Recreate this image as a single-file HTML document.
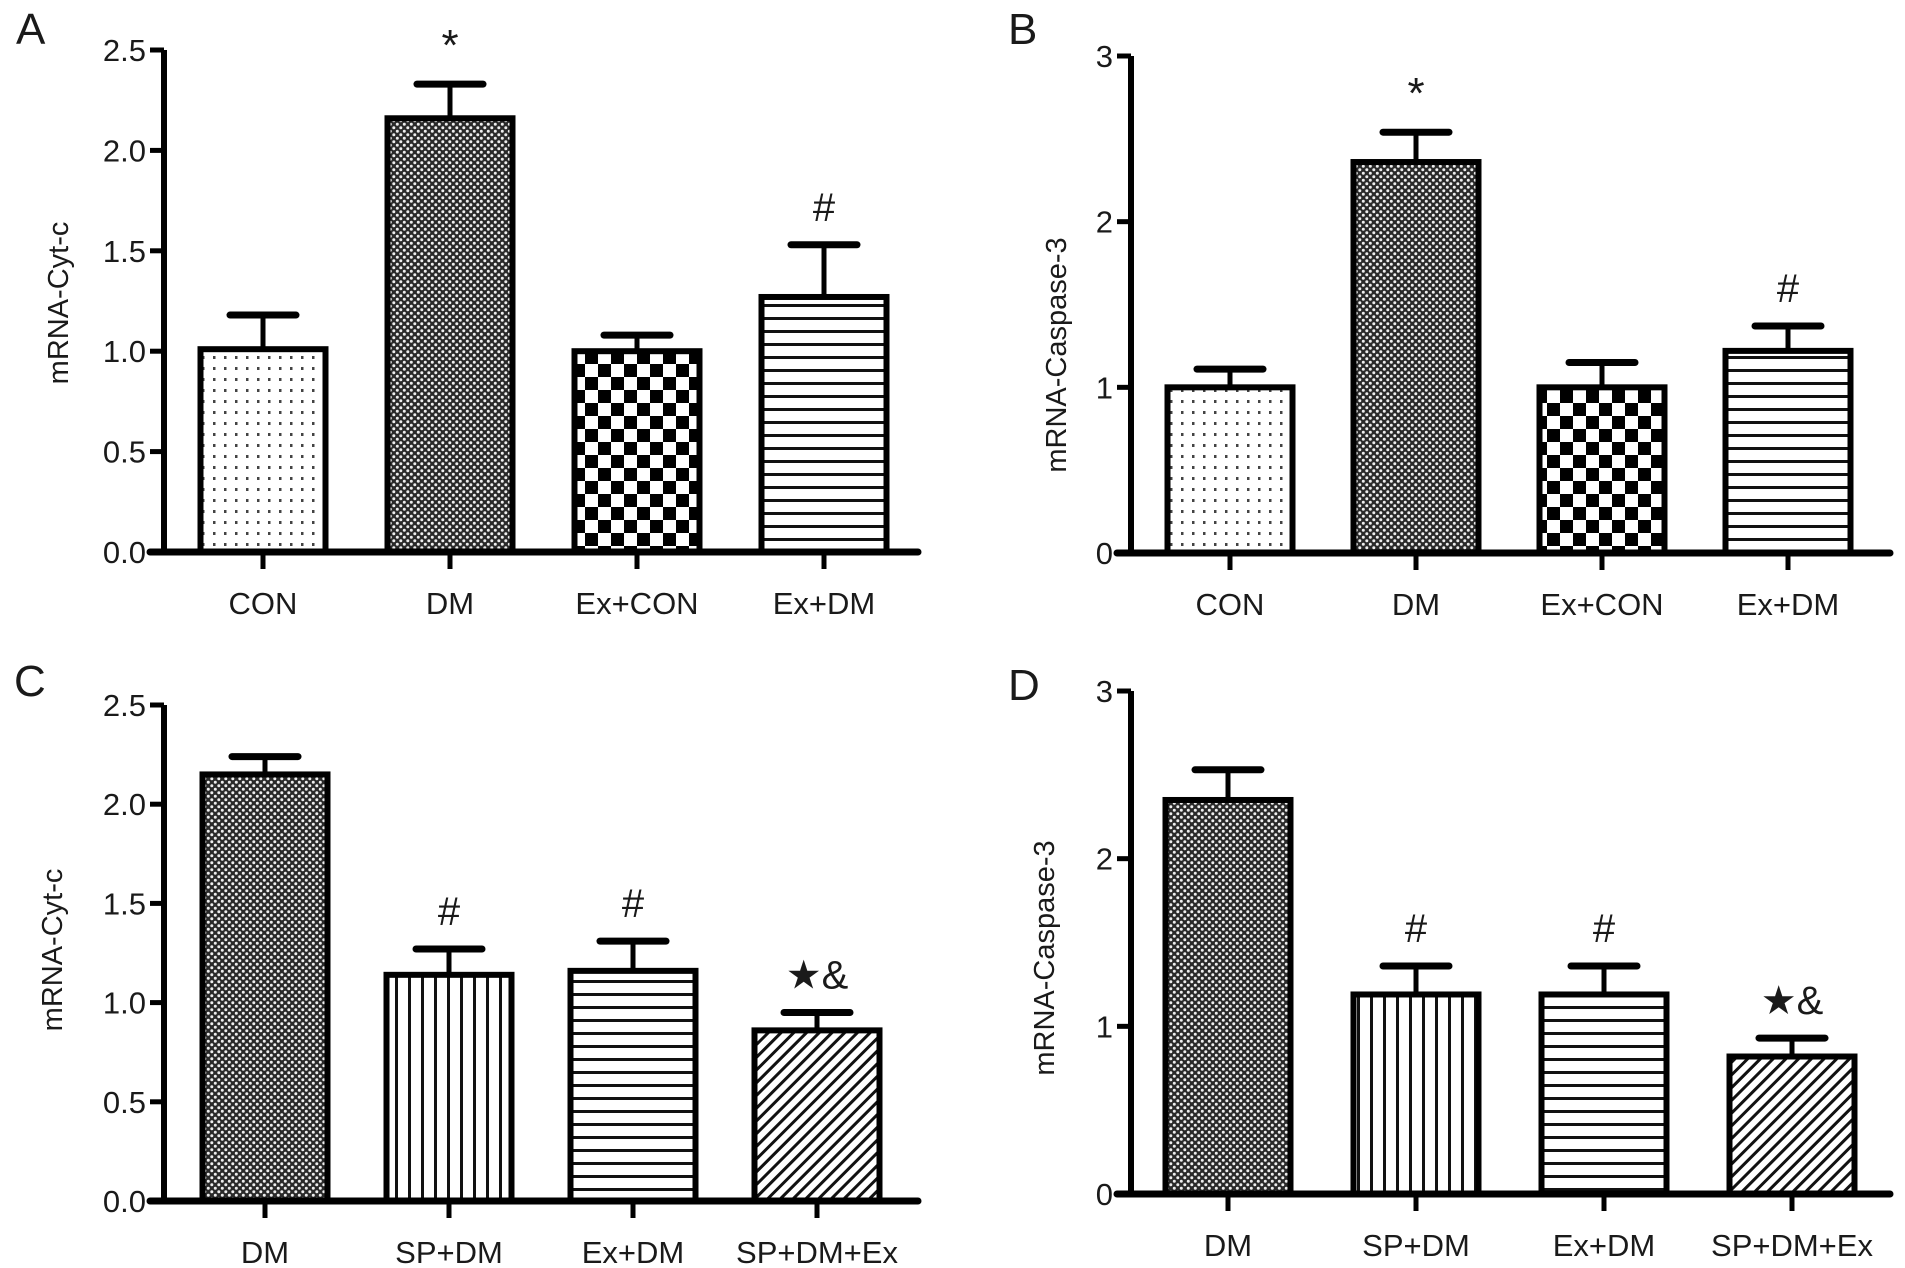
<!DOCTYPE html>
<html><head><meta charset="utf-8">
<style>
html,body{margin:0;padding:0;background:#fff;}
svg{display:block;}
text{font-family:"Liberation Sans",Arial,sans-serif;fill:#1a1a1a;}
</style></head>
<body>
<svg id="fig" width="1905" height="1268" viewBox="0 0 1905 1268" xmlns="http://www.w3.org/2000/svg">
<defs>
<pattern id="p-dots" width="11" height="11" patternUnits="userSpaceOnUse"><rect width="11" height="11" fill="#fff"/><rect x="4" y="4" width="2.5" height="3" fill="#444"/></pattern>
<pattern id="p-fine" width="7" height="7" patternUnits="userSpaceOnUse"><rect width="7" height="7" fill="#2a2a2a"/><circle cx="1.8" cy="1.8" r="1.5" fill="#eee"/><circle cx="5.3" cy="5.3" r="1.5" fill="#eee"/></pattern>
<pattern id="p-check" width="26" height="26" patternUnits="userSpaceOnUse"><rect width="26" height="26" fill="#fff"/><rect width="13" height="13" fill="#000"/><rect x="13" y="13" width="13" height="13" fill="#000"/></pattern>
<pattern id="p-hline" width="13" height="13" patternUnits="userSpaceOnUse"><rect width="13" height="13" fill="#fff"/><rect y="5" width="13" height="3" fill="#111"/></pattern>
<pattern id="p-vline" width="13" height="13" patternUnits="userSpaceOnUse"><rect width="13" height="13" fill="#fff"/><rect x="5" width="3" height="13" fill="#111"/></pattern>
<pattern id="p-diag" width="9" height="9" patternUnits="userSpaceOnUse" patternTransform="rotate(45)"><rect width="9" height="9" fill="#fff"/><rect x="3" width="3" height="9" fill="#111"/></pattern>
</defs>
<text x="16" y="44" font-size="44">A</text>
<text x="1008" y="44" font-size="44">B</text>
<text x="14" y="696" font-size="44">C</text>
<text x="1008" y="700" font-size="44">D</text>
</svg>
<script>
// Panel A
const catsA = ["CON","DM","Ex+CON","Ex+DM"];
const valsA = [1.01, 2.16, 1.0, 1.27];
const errsA = [0.17, 0.17, 0.08, 0.26];
const ticksA = ["0.0","0.5","1.0","1.5","2.0","2.5"];
const annA = ["", "*", "", "#"];
// Panel B
const catsB = ["CON","DM","Ex+CON","Ex+DM"];
const valsB = [1.0, 2.36, 1.0, 1.22];
const errsB = [0.11, 0.18, 0.15, 0.15];
const ticksB = ["0","1","2","3"];
const annB = ["", "*", "", "#"];
// Panel C
const catsC = ["DM","SP+DM","Ex+DM","SP+DM+Ex"];
const valsC = [2.15, 1.14, 1.16, 0.86];
const errsC = [0.09, 0.13, 0.15, 0.09];
const ticksC = ["0.0","0.5","1.0","1.5","2.0","2.5"];
const annC = ["", "#", "#", "\u2605&"];
// Panel D
const catsD = ["DM","SP+DM","Ex+DM","SP+DM+Ex"];
const valsD = [2.35, 1.19, 1.19, 0.82];
const errsD = [0.18, 0.17, 0.17, 0.11];
const ticksD = ["0","1","2","3"];
const annD = ["", "#", "#", "\u2605&"];

const NS = "http://www.w3.org/2000/svg";
const svg = document.getElementById('fig');
function mk(tag, attrs, parent){
  const e = document.createElementNS(NS, tag);
  for (const k in attrs) e.setAttribute(k, attrs[k]);
  (parent||svg).appendChild(e);
  return e;
}
function chart(id, cats, vals, errs, ticks, ann, fills, L){
  const g = mk('g', {});
  
  
  const ymax = parseFloat(ticks[ticks.length-1]);
  const y = v => L.y0 - (v/ymax)*(L.y0-L.yTop);
  const xc = i => L.first + i*L.gap;
  cats.forEach((c,i)=>{
    const bx = xc(i) - L.bw/2;
    const top = y(vals[i]);
    const et = y(vals[i]+errs[i]);
    const eb = mk('line',{x1:xc(i),x2:xc(i),y1:top,y2:et,stroke:'#000','stroke-width':5},g);
    
    
    const cap = mk('line',{x1:xc(i)-33,x2:xc(i)+33,y1:et,y2:et,stroke:'#000','stroke-width':7,'stroke-linecap':'round'},g);
    
    
    const r = mk('rect',{x:bx,y:top,width:L.bw,height:L.y0-top,fill:'url(#'+fills[i]+')',stroke:'#000','stroke-width':6},g);
    
    
    if (ann[i]) {
      const t = mk('text',{x:xc(i),y:et-24,'font-size':ann[i]==='*'?44:40,'text-anchor':'middle','font-family':'Liberation Serif, serif'},g);
      t.textContent = ann[i];
      
      
    }
    const tk = mk('line',{x1:xc(i),x2:xc(i),y1:L.y0,y2:L.y0+17,stroke:'#000','stroke-width':5},g);
    
    
    const lb = mk('text',{x:xc(i),y:L.y0+62,'font-size':31,'text-anchor':'middle'},g);
    lb.textContent = c;
    
    
  });
  const ya = mk('line',{x1:L.x0,x2:L.x0,y1:L.yTop,y2:L.y0,stroke:'#000','stroke-width':6},g);
  
  
  const xa = mk('line',{x1:L.x0-14,x2:L.xEnd,y1:L.y0,y2:L.y0,stroke:'#000','stroke-width':7,'stroke-linecap':'round'},g);
  
  
  ticks.forEach(t=>{
    const yy = y(parseFloat(t));
    const tl = mk('line',{x1:L.x0-14,x2:L.x0,y1:yy,y2:yy,stroke:'#000','stroke-width':5},g);
    
    
    const tx = mk('text',{x:L.x0-18,y:yy+11,'font-size':31,'text-anchor':'end'},g);
    tx.textContent = t;
    
    
  });
  const tt = mk('text',{x:0,y:0,'font-size':29,'text-anchor':'middle',transform:'translate('+L.tx+','+L.ty+') rotate(-90)'},g);
  tt.textContent = L.title;
  
  
}
chart('panel-a', catsA, valsA, errsA, ticksA, annA, ['p-dots','p-fine','p-check','p-hline'],
  {x0:164, xEnd:918, yTop:50, y0:552, first:263, gap:187, bw:125, tx:68, ty:303, title:'mRNA-Cyt-c'});
chart('panel-b', catsB, valsB, errsB, ticksB, annB, ['p-dots','p-fine','p-check','p-hline'],
  {x0:1131, xEnd:1890, yTop:56, y0:553, first:1230, gap:186, bw:125, tx:1066, ty:355, title:'mRNA-Caspase-3'});
chart('panel-c', catsC, valsC, errsC, ticksC, annC, ['p-fine','p-vline','p-hline','p-diag'],
  {x0:164, xEnd:918, yTop:705, y0:1201, first:265, gap:184, bw:125, tx:62, ty:950, title:'mRNA-Cyt-c'});
chart('panel-d', catsD, valsD, errsD, ticksD, annD, ['p-fine','p-vline','p-hline','p-diag'],
  {x0:1131, xEnd:1890, yTop:691, y0:1194, first:1228, gap:188, bw:125, tx:1054, ty:958, title:'mRNA-Caspase-3'});
</script>
</body></html>
